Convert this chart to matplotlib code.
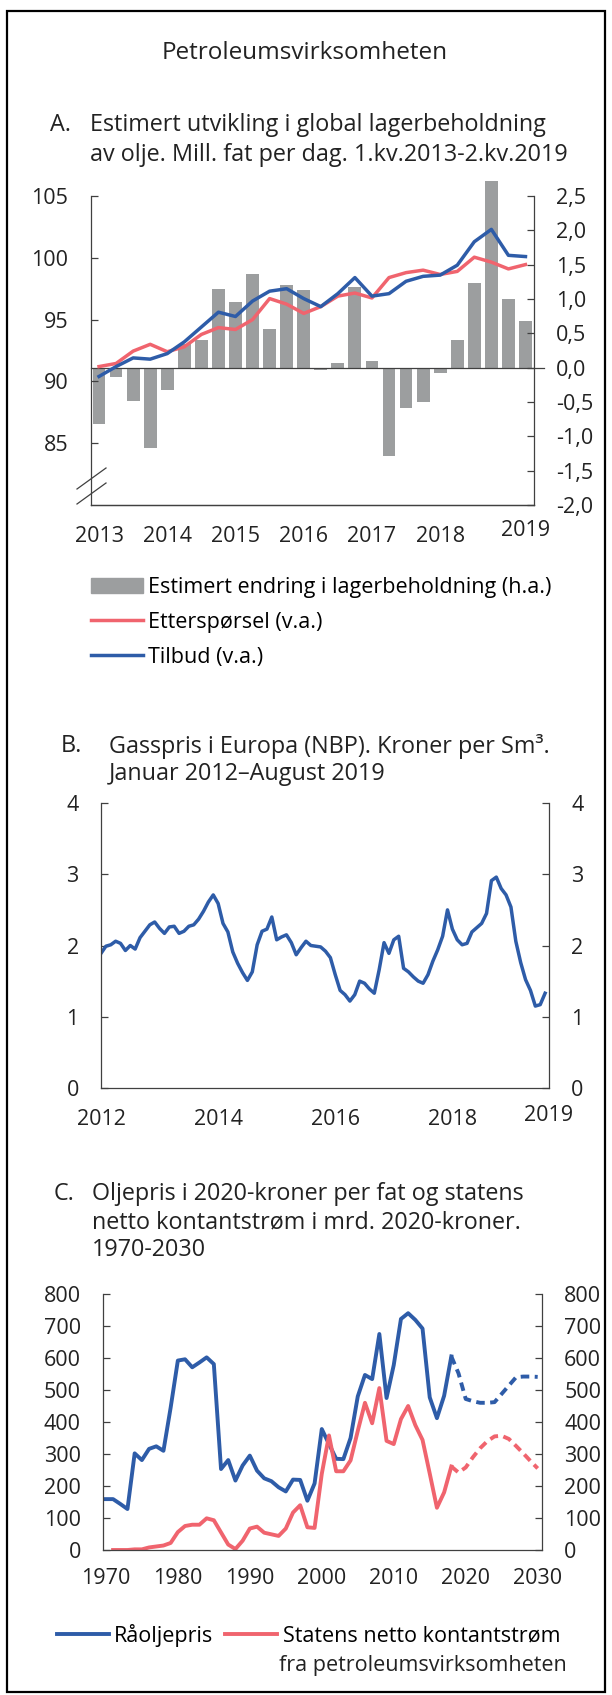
import numpy as np
import matplotlib
matplotlib.use("Agg")
import matplotlib.pyplot as plt
from matplotlib.lines import Line2D
from matplotlib.patches import Rectangle, Patch

plt.rcParams['font.family'] = ['Open Sans', 'DejaVu Sans']

W, H = 612, 1695
BLUE = '#2e5ca8'
RED = '#f0646e'
GREY = '#9c9e9f'
AXC = '#404040'
TXT = '#222222'
FS_TICK = 15.5
FS_SUB = 16.8
FS_LEG = 15.5
FS_TITLE = 17.5

# --- panel A: quarterly 2013Q1-2019Q2 ---
a_years = ['2013', '2014', '2015', '2016', '2017', '2018']
a_last_label = '2019'
a_stock = [-0.82, -0.14, -0.48, -1.17, -0.32, 0.34, 0.40, 1.15, 0.95, 1.37, 0.57, 1.21, 1.13,
           -0.03, 0.07, 1.17, 0.10, -1.29, -0.59, -0.50, -0.08, 0.40, 1.23, 2.72, 1.00, 0.68]
a_supply = [90.4, 91.2, 91.9, 91.8, 92.25, 93.2, 94.4, 95.6, 95.25, 96.5, 97.3, 97.5, 96.7, 96.05,
            97.1, 98.4, 96.9, 97.1, 98.1, 98.5, 98.6, 99.4, 101.3, 102.3, 100.2, 100.1]
a_demand = [91.2, 91.45, 92.45, 93.0, 92.4, 92.8, 93.8, 94.35, 94.2, 95.0, 96.7, 96.25, 95.5, 96.05,
            96.9, 97.15, 96.75, 98.4, 98.8, 99.0, 98.65, 98.9, 100.05, 99.65, 99.1, 99.45]
a_right_ticks = [-2.0, -1.5, -1.0, -0.5, 0.0, 0.5, 1.0, 1.5, 2.0, 2.5]
a_left_ticks = [85, 90, 95, 100, 105]

# --- panel B: monthly Jan 2012 - Aug 2019 ---
b_years = ['2012', '2014', '2016', '2018']
b_gas = [1.89, 1.99, 2.01, 2.06, 2.03, 1.93, 2.00, 1.95, 2.11, 2.20, 2.29, 2.33,
         2.24, 2.17, 2.26, 2.27, 2.17, 2.20, 2.27, 2.29, 2.37, 2.48, 2.61, 2.71,
         2.59, 2.31, 2.19, 1.91, 1.75, 1.62, 1.51, 1.63, 2.01, 2.20, 2.23, 2.40,
         2.08, 2.12, 2.15, 2.04, 1.87, 1.97, 2.06, 2.00, 1.99, 1.98, 1.92, 1.83,
         1.59, 1.37, 1.31, 1.22, 1.31, 1.50, 1.47, 1.39, 1.33, 1.66, 2.04, 1.89,
         2.08, 2.13, 1.68, 1.63, 1.56, 1.50, 1.47, 1.59, 1.78, 1.94, 2.13, 2.50,
         2.23, 2.08, 2.01, 2.03, 2.19, 2.25, 2.31, 2.45, 2.91, 2.96, 2.80, 2.71,
         2.54, 2.06, 1.76, 1.52, 1.37, 1.15, 1.17, 1.33]

# --- panel C: annual 1970-2030 ---
c_years = list(range(1970, 2031))
c_oil = [159, 159, 144, 128, 302, 281, 316, 324, 310, 445,
         592, 596, 571, 586, 602, 581, 253, 281, 217, 264,
         295, 248, 224, 215, 196, 183, 220, 219, 154, 208,
         378, 331, 285, 284, 350, 480, 547, 534, 675, 475,
         578, 722, 740, 719, 692, 477, 412, 482, 605, 552,
         472, 465, 460, 460, 462, 488, 514, 540, 542, 542, 541]
c_cash_years = list(range(1971, 2031))
c_cash = [0, 0, 0, 2, 2, 8, 11, 14, 22,
          56, 75, 79, 79, 99, 93, 55, 17, 3, 29,
          67, 73, 54, 49, 44, 67, 117, 140, 71, 69,
          238, 358, 246, 246, 280, 372, 460, 396, 506, 341,
          331, 409, 450, 390, 344, 239, 132, 180, 261, 242,
          258, 290, 318, 340, 355, 357, 347, 325, 302, 278, 255]
c_split = 2018


def px_axes(l, t, r, b):
    return fig.add_axes([l / W, 1 - b / H, (r - l) / W, (b - t) / H])


def ftext(x, y, s, **kw):
    kw.setdefault('fontsize', FS_SUB)
    kw.setdefault('color', TXT)
    kw.setdefault('va', 'center')
    return fig.text(x / W, 1 - y / H, s, **kw)


def style(ax, spines=('left', 'right', 'bottom')):
    for k, sp in ax.spines.items():
        sp.set_visible(k in spines)
        sp.set_color(AXC)
        sp.set_linewidth(0.9)
    ax.tick_params(axis='y', direction='in', length=5, width=0.9, color=AXC,
                   labelsize=FS_TICK, labelcolor=TXT, pad=16)
    ax.tick_params(axis='x', length=0, labelsize=FS_TICK, labelcolor=TXT, pad=15)
    ax.patch.set_visible(False)


fig = plt.figure(figsize=(W / 100, H / 100), dpi=100)
fig.patches.append(Rectangle((7 / W, 1 - 1692 / H), 598 / W, 1681 / H, transform=fig.transFigure,
                             fill=False, lw=1.6, ec='black'))

ftext(305, 53, 'Petroleumsvirksomheten', ha='center', fontsize=FS_TITLE)

# ---------- Panel A ----------
ftext(50, 125, 'A.')
ftext(90, 125, 'Estimert utvikling i global lagerbeholdning')
ftext(90, 155, 'av olje. Mill. fat per dag. 1.kv.2013-2.kv.2019')

axb = px_axes(90.5, 196, 534, 505)
xq = np.arange(len(a_stock)) + 0.5
axb.bar(xq, a_stock, width=0.75, color=GREY, clip_on=False, zorder=1)
axb.axhline(0, xmin=0, xmax=1.023, color=AXC, lw=0.9, clip_on=False, zorder=2)
axb.set_xlim(0, len(a_stock))
axb.set_ylim(-2.0, 2.5)

axl = axb.twinx()
axl.plot(xq, a_demand, color=RED, lw=2.5, solid_joinstyle='round')
axl.plot(xq, a_supply, color=BLUE, lw=2.5, solid_joinstyle='round')
axl.set_ylim(80, 105)
axl.set_yticks(a_left_ticks)
axl.yaxis.tick_left()
style(axl)
axl.spines['right'].set_visible(False)
axl.set_xticks([])

axb.yaxis.tick_right()
axb.set_yticks(a_right_ticks)
axb.set_yticklabels([f'{v:.1f}'.replace('.', ',') for v in a_right_ticks])
axb.set_xticks(xq[0:24:4])
axb.set_xticklabels(a_years)
style(axb)
axb.spines['left'].set_visible(False)
axb.annotate(a_last_label, xy=(xq[-1], 0), xycoords=('data', 'axes fraction'),
             xytext=(0, -18), textcoords='offset points', ha='center', va='center',
             fontsize=FS_TICK, color=TXT)

# axis break marks
for y0 in (489, 504):
    fig.add_artist(Line2D([77 / W, 106 / W], [1 - y0 / H, 1 - (y0 - 21) / H],
                          transform=fig.transFigure, color=AXC, lw=0.9))

hA = [Patch(color=GREY), Line2D([], [], color=RED, lw=2.5), Line2D([], [], color=BLUE, lw=2.5)]
fig.legend(hA, ['Estimert endring i lagerbeholdning (h.a.)', 'Etterspørsel (v.a.)', 'Tilbud (v.a.)'],
           loc='upper left', bbox_to_anchor=(91 / W, 1 - 577 / H), frameon=False,
           fontsize=FS_LEG, handlelength=2.42, handleheight=0.65, handletextpad=0.23,
           labelspacing=0.64, borderaxespad=0, borderpad=0)

# ---------- Panel B ----------
ftext(61, 746, 'B.')
ftext(109, 746, 'Gasspris i Europa (NBP). Kroner per Sm³.')
ftext(109, 774, 'Januar 2012–August 2019')

axB = px_axes(101, 803, 549, 1088)
m = np.arange(len(b_gas))
axB.plot(m, b_gas, color=BLUE, lw=2.5, solid_joinstyle='round')
axB.set_xlim(0, 91.8)
axB.set_ylim(0, 4)
axB.set_yticks([0, 1, 2, 3, 4])
axB.set_xticks([0, 24, 48, 72])
axB.set_xticklabels(b_years)
style(axB)
axB.tick_params(axis='y', right=True, labelright=True)
axB.annotate('2019', xy=(91.8, 0), xycoords=('data', 'axes fraction'),
             xytext=(0, -20), textcoords='offset points', ha='center', va='center',
             fontsize=FS_TICK, color=TXT)

# ---------- Panel C ----------
ftext(54, 1194, 'C.')
ftext(92, 1194, 'Oljepris i 2020-kroner per fat og statens')
ftext(92, 1222, 'netto kontantstrøm i mrd. 2020-kroner.')
ftext(92, 1250, '1970-2030')

axC = px_axes(103, 1294, 542, 1550)
yc = np.array(c_years)
oil = np.array(c_oil)
yk = np.array(c_cash_years)
cash = np.array(c_cash)
axC.plot(yc[yc <= c_split], oil[yc <= c_split], color=BLUE, lw=2.8, solid_joinstyle='round')
axC.plot(yc[yc >= c_split], oil[yc >= c_split], color=BLUE, lw=2.8, ls=(0, (2.2, 1.4)))
axC.plot(yk[yk <= c_split], cash[yk <= c_split], color=RED, lw=2.8, solid_joinstyle='round')
axC.plot(yk[yk >= c_split], cash[yk >= c_split], color=RED, lw=2.8, ls=(0, (2.2, 1.4)))
axC.set_xlim(1969.6, 2030.6)
axC.set_ylim(0, 800)
axC.set_yticks(range(0, 801, 100))
axC.set_xticks(range(1970, 2031, 10))
style(axC)
axC.tick_params(axis='y', right=True, labelright=True)
axC.tick_params(axis='x', pad=13)

hC = [Line2D([], [], color=BLUE, lw=2.8), Line2D([], [], color=RED, lw=2.8)]
fig.legend(hC, ['Råoljepris', 'Statens netto kontantstrøm'], ncol=2,
           loc='upper left', bbox_to_anchor=(57 / W, 1 - 1624 / H), frameon=False,
           fontsize=FS_LEG, handlelength=2.4, handletextpad=0.26, columnspacing=0.55,
           borderaxespad=0, borderpad=0)
ftext(279, 1665, 'fra petroleumsvirksomheten', fontsize=FS_LEG)

fig.savefig('out.png', dpi=100)
